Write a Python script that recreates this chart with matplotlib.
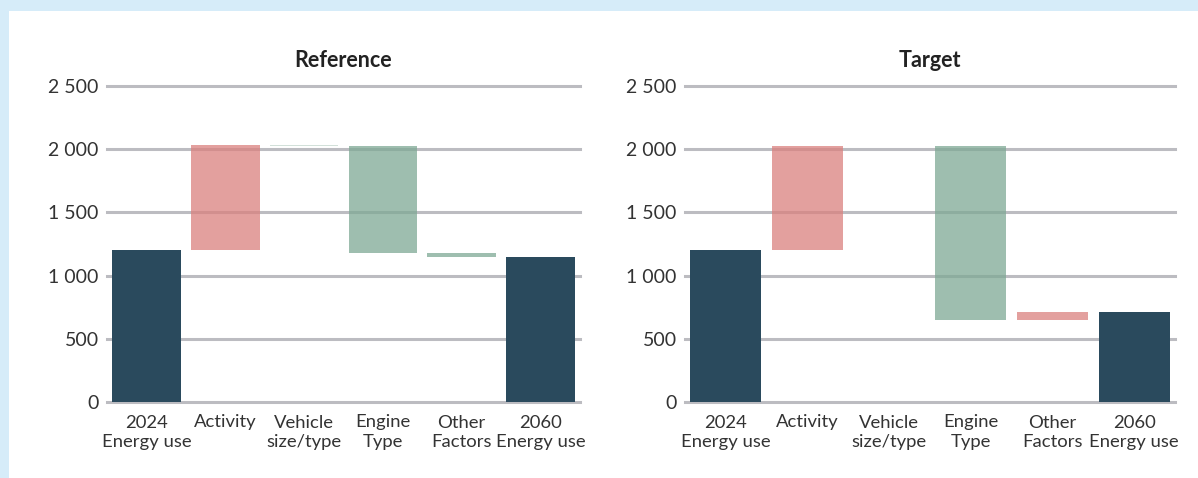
import matplotlib
matplotlib.use("Agg")
import matplotlib.pyplot as plt
from matplotlib.patches import Rectangle
from matplotlib.ticker import FuncFormatter

plt.rcParams['font.family'] = ['Lato', 'DejaVu Sans']

categories = ["2024\nEnergy use", "Activity", "Vehicle\nsize/type", "Engine\nType",
              "Other\nFactors", "2060\nEnergy use"]

# start value and the four changes, per scenario
ref_start = 1205
ref_changes = [828, -6, -847, -32]
tgt_start = 1205
tgt_changes = [822, -4, -1373, 60]

total_color = "#2a4a5d"
up_color = "#da807e"
down_color = "#7ea894"
grid_color = "#bcbcc1"


def thousands(v, pos):
    return f"{int(v):,}".replace(",", " ")


def waterfall(ax, title, start, changes):
    level = start
    ax.bar(0, start, width=0.87, color=total_color, zorder=3)
    for i, d in enumerate(changes, start=1):
        col = up_color if d > 0 else down_color
        a = 0.75 if abs(d) > 10 else 0.35
        ax.bar(i, d, bottom=level, width=0.87, color=col, alpha=a, zorder=3,
               linewidth=0)
        level += d
    ax.bar(len(changes) + 1, level, width=0.87, color=total_color, zorder=3)

    ax.set_xlim(-0.5, 5.5)
    ax.set_ylim(0, 2500)
    ax.set_yticks([0, 500, 1000, 1500, 2000, 2500])
    ax.yaxis.set_major_formatter(FuncFormatter(thousands))
    ax.set_xticks(range(len(categories)))
    ax.set_xticklabels(categories, fontsize=13.3, color="#333333", linespacing=1.3)
    ax.tick_params(axis='y', labelsize=14, colors="#333333", length=0, pad=6)
    ax.tick_params(axis='x', length=0, pad=9)
    for s in ax.spines.values():
        s.set_visible(False)
    ax.grid(axis='y', color=grid_color, linewidth=2.2, zorder=0)
    for gl in ax.get_ygridlines():
        gl.set_clip_on(False)
    ax.set_facecolor("white")
    ax.set_title(title, fontsize=15.5, fontweight='bold', color="#222222", pad=14)


fig = plt.figure(figsize=(11.98, 4.78), dpi=100)
fig.patch.set_facecolor("#d6ecf9")
fig.add_artist(Rectangle((9 / 1198, 0), 1 - 9 / 1198, (478 - 11) / 478,
                         transform=fig.transFigure, facecolor="white",
                         edgecolor="none", zorder=0))

ax1 = fig.add_axes([107 / 1198, 76 / 478, 473 / 1198, 316 / 478])
ax2 = fig.add_axes([685 / 1198, 76 / 478, 490 / 1198, 316 / 478])

waterfall(ax1, "Reference", ref_start, ref_changes)
waterfall(ax2, "Target", tgt_start, tgt_changes)

fig.savefig("out.png", dpi=100)
